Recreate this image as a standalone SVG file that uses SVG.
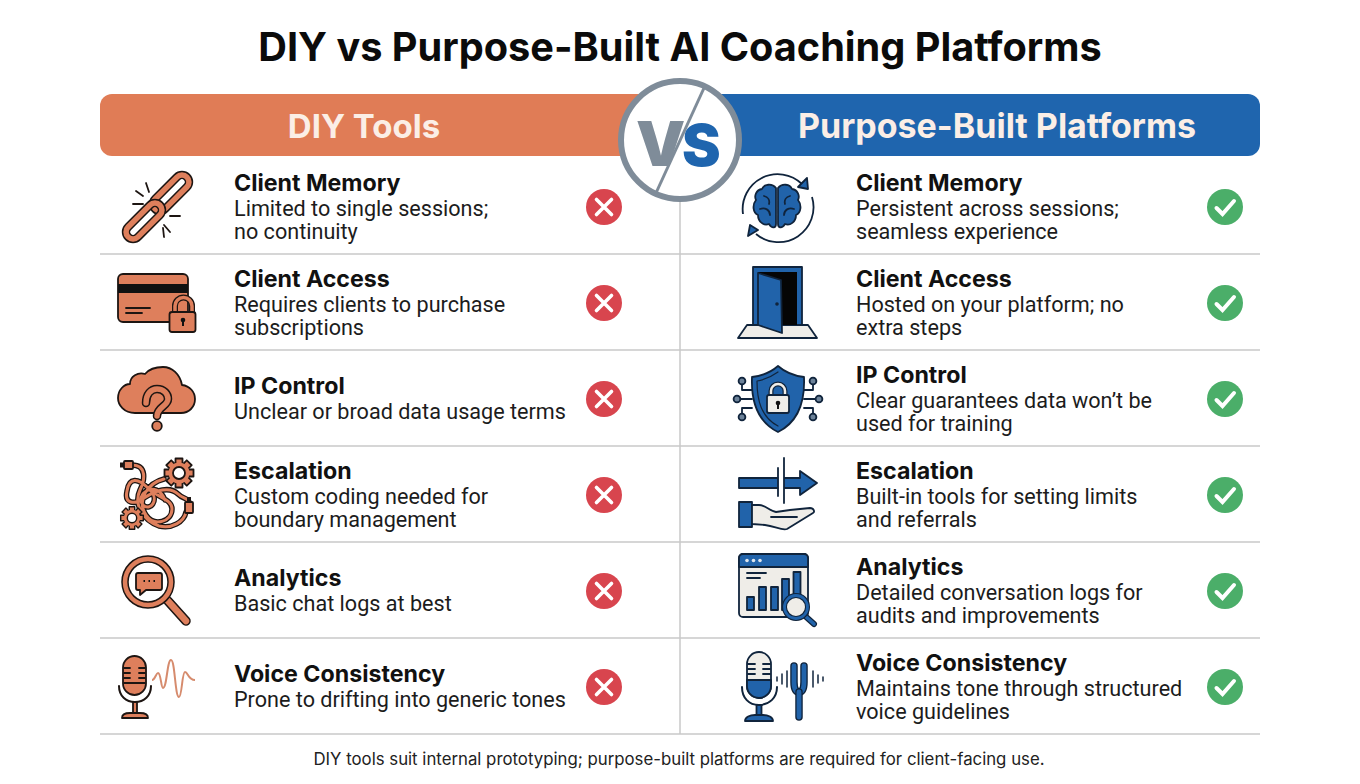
<svg xmlns="http://www.w3.org/2000/svg" width="1360" height="784" viewBox="0 0 1360 784">
<style>
text{font-family:Inter,"Liberation Sans",sans-serif;fill:#111}
.title{font-size:39.7px;font-weight:700;text-anchor:middle;fill:#0b0b0b}
.hd{font-size:34px;font-weight:700;text-anchor:middle;fill:#fbeee6}
.t{font-size:23.2px;font-weight:700}
.d{font-family:Roboto,"Liberation Sans",sans-serif;font-size:21.6px;fill:#1c1c1c}
.foot{font-size:16.8px;text-anchor:middle;fill:#222}
.rule{stroke:#c9c9c9;stroke-width:1.5;fill:none}
.o{fill:#de7f5c;stroke:#1d1512;stroke-width:1.8;stroke-linejoin:round}
.b{fill:#2163aa;stroke:#10243c;stroke-width:1.8;stroke-linejoin:round}
.w{fill:#efedE8;stroke:#10243c;stroke-width:1.8;stroke-linejoin:round}
.k{fill:none;stroke:#1d1512;stroke-width:1.8;stroke-linecap:round;stroke-linejoin:round}
.n{fill:none;stroke:#10243c;stroke-width:1.8;stroke-linecap:round;stroke-linejoin:round}
.x{stroke:#fff;stroke-width:3.6;stroke-linecap:round;fill:none}
.red{fill:#d8454e}
.green{fill:#4bae69}
</style>
<defs>
<g id="bad"><circle r="18" class="red"/><path class="x" d="M-7.500-7.500 7.500 7.500M7.500-7.500-7.500 7.500"/></g>
<g id="good"><circle r="18" class="green"/><path class="x" style="stroke-width:4" d="M-8.500 1-2.500 7 9-6"/></g>
<g id="gear">
<g class="o">
<rect x="-3.500" y="-14.500" width="7" height="7"/><rect x="-3.500" y="-14.500" width="7" height="7" transform="rotate(45)"/><rect x="-3.500" y="-14.500" width="7" height="7" transform="rotate(90)"/><rect x="-3.500" y="-14.500" width="7" height="7" transform="rotate(135)"/><rect x="-3.500" y="-14.500" width="7" height="7" transform="rotate(180)"/><rect x="-3.500" y="-14.500" width="7" height="7" transform="rotate(225)"/><rect x="-3.500" y="-14.500" width="7" height="7" transform="rotate(270)"/><rect x="-3.500" y="-14.500" width="7" height="7" transform="rotate(315)"/>
</g>
<circle r="10.500" fill="#de7f5c"/>
<circle r="6" fill="#fff" stroke="#1d1512" stroke-width="1.800"/>
</g>
<path id="tangle" d="M132 465C147 465 145 480 140 490C133 505 144 521 159 526C172 529 184 522 186 512M127 491C129 477 138 478 148 488C158 498 172 499 172 509C172 522 154 527 146 515C136 500 148 483 164 479M127 491C124 504 135 505 144 498C156 490 170 486 178 494C183 499 188 498 189 502M150 490C160 500 150 512 143 505C134 495 156 478 165 500"/>
</defs>
<rect width="1360" height="784" fill="#fff"/>
<text class="title" x="680" y="61" id="title">DIY vs Purpose-Built AI Coaching Platforms</text>

<g id="connectors">
<path class="rule" d="M100 254H1260M100 350H1260M100 446H1260M100 542H1260M100 638H1260M100 734H1260M680 200V734"/>
</g>

<g id="header-left"><rect x="100" y="94" width="560" height="62" rx="12" fill="#e07c56"/><text class="hd" x="364" y="138" style="font-size:33px">DIY Tools</text></g>
<g id="header-right"><rect x="700" y="94" width="560" height="62" rx="12" fill="#1f65ae"/><text class="hd" x="997" y="138">Purpose-Built Platforms</text></g>
<g id="vs">
<circle cx="680" cy="140" r="59" fill="#fff" stroke="#7f8c99" stroke-width="6"/>
<path d="M704 88 656 193" stroke="#7f8c99" stroke-width="3" fill="none"/>
<text x="636" y="166" style="font-size:62px;font-weight:900;fill:#7f8c99">V</text>
<text x="682" y="166" style="font-size:58px;font-weight:900;fill:#1f65ae">S</text>
</g>

<g id="left-memory">
<g fill="none">
<rect x="-22.500" y="-7" width="45" height="14" rx="7" transform="translate(171 193) rotate(-45)" stroke="#1d1512" stroke-width="8.500"/>
<rect x="-22.500" y="-7" width="45" height="14" rx="7" transform="translate(171 193) rotate(-45)" stroke="#de7f5c" stroke-width="5.500"/>
<rect x="-22.500" y="-7" width="45" height="14" rx="7" transform="translate(144 221) rotate(-45)" stroke="#1d1512" stroke-width="8.500"/>
<rect x="-22.500" y="-7" width="45" height="14" rx="7" transform="translate(144 221) rotate(-45)" stroke="#de7f5c" stroke-width="5.500"/>
</g>
<path class="k" d="M136 191 143 196M146 183 149 192M133 204H143M170 216H180M164 225 170 232M163 228 164 237"/>
<text class="t" x="234" y="191">Client Memory</text><text class="d" x="234" y="216">Limited to single sessions;</text><text class="d" x="234" y="239">no continuity</text>
<use href="#bad" x="604" y="207"/>
</g>

<g id="left-access">
<rect class="o" x="118" y="274" width="70" height="48" rx="5"/>
<rect x="118" y="284" width="70" height="9" fill="#111"/>
<path class="k" d="M126 308H150M126 313H142"/>
<path d="M175 313V306a8.500 8.500 0 0 1 17 0V313" fill="none" stroke="#1d1512" stroke-width="6"/>
<path d="M175 313V306a8.500 8.500 0 0 1 17 0V313" fill="none" stroke="#de7f5c" stroke-width="3.500"/>
<rect class="o" x="169.500" y="312" width="26" height="20" rx="2.500"/>
<circle cx="183" cy="320" r="2.300" fill="#111"/><path d="M183 320V326" stroke="#111" stroke-width="2"/>
<text class="t" x="234" y="287">Client Access</text><text class="d" x="234" y="312">Requires clients to purchase</text><text class="d" x="234" y="335">subscriptions</text>
<use href="#bad" x="604" y="303"/>
</g>

<g id="left-ip">
<path class="o" d="M135 413C124 413 118 405 118 398C118 390 124 384 130 384C130 376 138 372 145 374C150 368 156 367 163 367C172 367 180 374 182 385C190 386 195 392 195 399C195 407 189 413 181 413Z"/>
<path d="M146 403C146 394 151 389 157 389C164 389 168 394 168 399C168 406 157 407 157 416" fill="none" stroke="#1d1512" stroke-width="8.500" stroke-linecap="round"/>
<path d="M146 403C146 394 151 389 157 389C164 389 168 394 168 399C168 406 157 407 157 416" fill="none" stroke="#de7f5c" stroke-width="5.500" stroke-linecap="round"/>
<circle class="o" cx="157" cy="426" r="4.800"/>
<text class="t" x="234" y="394">IP Control</text><text class="d" x="234" y="419">Unclear or broad data usage terms</text>
<use href="#bad" x="604" y="399"/>
</g>

<g id="left-escalation">
<g fill="none" stroke-linecap="round">
<use href="#tangle" stroke="#1d1512" stroke-width="5.500"/>
<use href="#tangle" stroke="#de7f5c" stroke-width="3"/>
</g>
<rect class="o" x="124" y="461" width="9" height="8" rx="1"/><rect x="120" y="462.500" width="4" height="5" fill="#1d1512"/>
<rect class="o" x="185" y="502" width="8" height="11" rx="1"/><rect x="187" y="497" width="4" height="5" fill="#1d1512"/>
<use href="#gear" transform="translate(179 473)"/>
<use href="#gear" transform="translate(132 518) scale(.78)"/>
<text class="t" x="234" y="479">Escalation</text><text class="d" x="234" y="504">Custom coding needed for</text><text class="d" x="234" y="527">boundary management</text>
<use href="#bad" x="604" y="495"/>
</g>

<g id="left-analytics">
<path d="M168 601 186 621" stroke="#1d1512" stroke-width="9.500" stroke-linecap="round"/>
<path d="M168 601 186 621" stroke="#de7f5c" stroke-width="6.500" stroke-linecap="round"/>
<circle cx="148" cy="582" r="23" fill="#fff" stroke="#1d1512" stroke-width="7.500"/>
<circle cx="148" cy="582" r="23" fill="none" stroke="#de7f5c" stroke-width="4.500"/>
<path class="o" d="M138 573H160a2 2 0 0 1 2 2V588a2 2 0 0 1-2 2H146L140 595V590H138a2 2 0 0 1-2-2V575a2 2 0 0 1 2-2Z"/>
<path d="M143.500 581h1.500M148.500 581h1.500M153.500 581h1.500" stroke="#111" stroke-width="2"/>
<text class="t" x="234" y="586">Analytics</text><text class="d" x="234" y="611">Basic chat logs at best</text>
<use href="#bad" x="604" y="591"/>
</g>

<g id="left-voice">
<rect class="o" x="123" y="656" width="23" height="39" rx="11.500"/>
<path class="k" d="M124 668H130M139 668H145M124 673H130M139 673H145M124 678H130M139 678H145M124 683H145"/>
<path class="k" d="M119 686C119 696 126 702 135 702C144 702 151 696 151 686" style="stroke-width:2"/>
<path class="o" d="M133 702H137V713H133Z"/>
<path class="o" d="M122 718C122 714 126 713 130 713H140C144 713 148 714 148 718Z"/>
<path d="M152 680C155 680 156 673 158 673C161 673 161 688 163 688C167 688 167 660 171 660C175 660 175 697 179 697C182 697 182 672 185 672C188 672 188 680 195 680" fill="none" stroke="#d68b6d" stroke-width="2"/>
<text class="t" x="234" y="682">Voice Consistency</text><text class="d" x="234" y="707">Prone to drifting into generic tones</text>
<use href="#bad" x="604" y="687"/>
</g>

<g id="right-memory">
<path d="M743 214A35 35 0 0 1 802 184M812 197A35 35 0 0 1 756 234" fill="none" stroke="#10243c" stroke-width="1.800"/>
<path class="b" d="M807 178 808 189 798 187ZM748 236 750 225 758 230Z"/>
<path class="b" d="M776 188C772 183 764 184 762 189C756 190 754 196 756 200C752 205 753 213 758 215C758 222 764 226 769 224C772 229 776 228 776 224ZM778 188C782 183 790 184 792 189C798 190 800 196 798 200C802 205 801 213 796 215C796 222 790 226 785 224C782 229 778 228 778 224Z"/>
<path class="n" d="M764 196C768 197 770 200 769 204M760 209C765 207 770 210 770 215M790 196C786 197 784 200 785 204M794 209C789 207 784 210 784 215"/>
<text class="t" x="856" y="191">Client Memory</text><text class="d" x="856" y="216">Persistent across sessions;</text><text class="d" x="856" y="239">seamless experience</text>
<use href="#good" x="1225" y="207"/>
</g>

<g id="right-access">
<path class="w" d="M747 325H808L817 338H738Z"/>
<rect class="b" x="753" y="267" width="49" height="58"/>
<rect x="758" y="272" width="39" height="53" fill="#050505"/>
<path class="b" d="M758 273 781 280 782 333 758 325Z"/>
<circle cx="777" cy="304" r="1.800" fill="#10243c"/>
<text class="t" x="856" y="287">Client Access</text><text class="d" x="856" y="312">Hosted on your platform; no</text><text class="d" x="856" y="335">extra steps</text>
<use href="#good" x="1225" y="303"/>
</g>

<g id="right-ip">
<path class="n" d="M742 381V390H752M737 399H752M742 417V408H752M813 381V390H804M819 399H804M813 417V408H804"/>
<g class="b" style="fill:#6c8299"><circle cx="742" cy="381" r="3.400"/><circle cx="737" cy="399" r="3.400"/><circle cx="742" cy="417" r="3.400"/><circle cx="813" cy="381" r="3.400"/><circle cx="819" cy="399" r="3.400"/><circle cx="813" cy="417" r="3.400"/></g>
<path class="b" d="M778 366C770 373 761 376 752 377C751 400 756 421 778 432C800 421 805 400 804 377C795 376 786 373 778 366Z"/>
<path class="n" d="M778 372C771 377 764 380 757 381C757 400 761 417 778 426" style="stroke-width:1.200"/>
<path d="M771 396V391a7 7 0 0 1 14 0V396" fill="none" stroke="#10243c" stroke-width="5"/>
<path d="M771 396V391a7 7 0 0 1 14 0V396" fill="none" stroke="#efedE8" stroke-width="2.500"/>
<rect class="w" x="767" y="395" width="22" height="18" rx="2"/>
<circle cx="778" cy="403" r="2.300" fill="#111"/><path d="M778 403V409" stroke="#111" stroke-width="2"/>
<text class="t" x="856" y="383">IP Control</text><text class="d" x="856" y="408">Clear guarantees data won’t be</text><text class="d" x="856" y="431">used for training</text>
<use href="#good" x="1225" y="399"/>
</g>

<g id="right-escalation">
<path class="b" d="M739 478H800V471L817 483 800 495V488H739Z"/>
<rect x="778.500" y="456" width="5.500" height="50" fill="#fff"/>
<path class="n" d="M778 468V496M784 458V503"/>
<rect class="b" x="739" y="502" width="13" height="25"/>
<path class="w" d="M752 505H759C765 505 770 511 776 512L790 510 810 508C814 508 815 512 813 513L787 529C782 531 775 526 765 525L752 524Z"/>
<path class="n" d="M771 517H797"/>
<text class="t" x="856" y="479">Escalation</text><text class="d" x="856" y="504">Built-in tools for setting limits</text><text class="d" x="856" y="527">and referrals</text>
<use href="#good" x="1225" y="495"/>
</g>

<g id="right-analytics">
<rect class="w" x="739" y="554" width="69" height="63" rx="4"/>
<path class="b" d="M743 554H804a4 4 0 0 1 4 4V567H739V558a4 4 0 0 1 4-4Z"/>
<circle cx="747" cy="560.500" r="1.800" fill="#dfe6ee"/><circle cx="753.500" cy="560.500" r="1.800" fill="#dfe6ee"/><circle cx="760" cy="560.500" r="1.800" fill="#dfe6ee"/>
<path class="n" d="M747 573H766M747 578H760"/>
<g class="b"><rect x="747" y="597" width="7" height="13"/><rect x="759" y="587" width="7" height="23"/><rect x="771" y="587" width="7" height="23"/><rect x="782" y="579" width="7" height="31"/><rect x="793.500" y="572" width="7" height="38"/></g>
<path d="M804 615 814 624" stroke="#10243c" stroke-width="6" stroke-linecap="round"/>
<path d="M804 615 814 624" stroke="#2163aa" stroke-width="3.600" stroke-linecap="round"/>
<circle cx="796" cy="607" r="11.500" fill="#efedE8" stroke="#10243c" stroke-width="5"/>
<circle cx="796" cy="607" r="11.500" fill="none" stroke="#2163aa" stroke-width="2.800"/>
<text class="t" x="856" y="575">Analytics</text><text class="d" x="856" y="600">Detailed conversation logs for</text><text class="d" x="856" y="623">audits and improvements</text>
<use href="#good" x="1225" y="591"/>
</g>

<g id="right-voice">
<rect class="w" x="747" y="652" width="24" height="46" rx="12"/>
<path class="b" d="M747 680H771V686a12 12 0 0 1-24 0Z"/>
<path class="n" d="M748 664H755M763 664H770M748 669H755M763 669H770M748 674H755M763 674H770"/>
<path class="n" d="M742 687C742 698 749 705 759 705C769 705 777 698 777 687" style="stroke-width:2"/>
<rect class="b" x="756.500" y="705" width="5" height="11"/>
<path class="b" d="M745 721C745 717 750 715 755 715H763C768 715 773 717 773 721Z"/>
<path d="M794 666V682C794 689 796 692 799 692C802 692 804 689 804 682V666" fill="none" stroke="#10243c" stroke-width="7.500" stroke-linecap="round"/>
<path d="M794 666V682C794 689 796 692 799 692C802 692 804 689 804 682V666" fill="none" stroke="#2163aa" stroke-width="4.800" stroke-linecap="round"/>
<path d="M799 692V717" stroke="#10243c" stroke-width="7.500" stroke-linecap="round"/>
<path d="M799 692V717" stroke="#2163aa" stroke-width="4.800" stroke-linecap="round"/>
<path class="n" d="M777 677V681M782 674V684M787 671V687M813 671V687M818 675V683M823 677V681" style="stroke-width:1.500"/>
<text class="t" x="856" y="671">Voice Consistency</text><text class="d" x="856" y="696">Maintains tone through structured</text><text class="d" x="856" y="719">voice guidelines</text>
<use href="#good" x="1225" y="687"/>
</g>

<text class="foot" x="679" y="765" id="footer">DIY tools suit internal prototyping; purpose-built platforms are required for client-facing use.</text>
</svg>
